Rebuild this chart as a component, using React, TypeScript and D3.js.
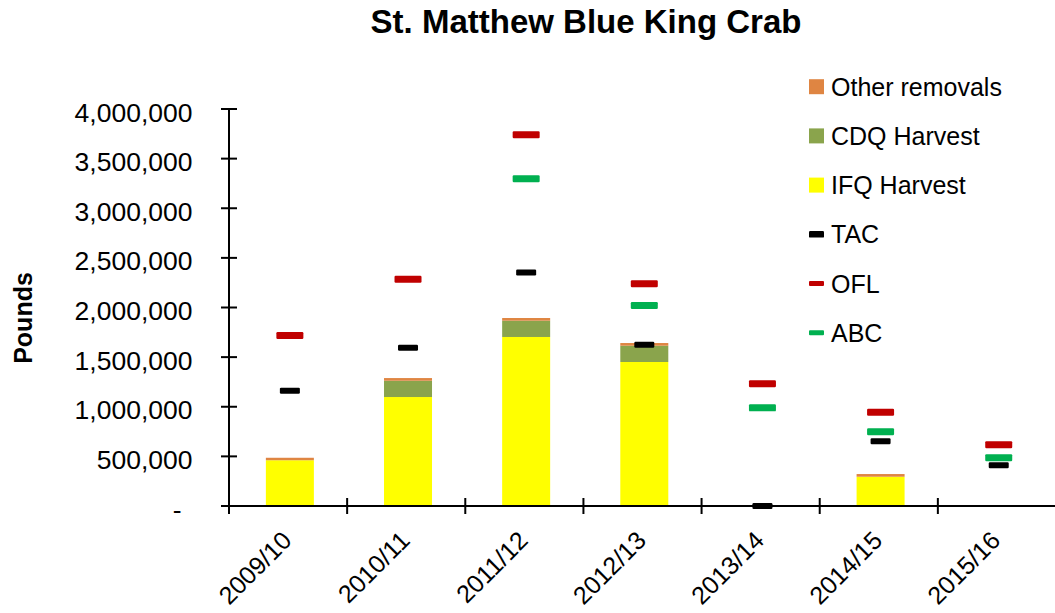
import React from 'react';
import * as d3 from 'd3';

const seasons = ['2009/10', '2010/11', '2011/12', '2012/13', '2013/14', '2014/15', '2015/16'];
const ifqHarvest = [461000, 1098000, 1703000, 1451000, 0, 295000, 0];
const cdqHarvest = [0, 164000, 164000, 164000, 0, 0, 0];
const otherRemovals = [25000, 27000, 27000, 27000, 0, 27000, 0];
const tacValues = [1162000, 1595000, 2353000, 1625000, 0, 653000, 410000];
const oflValues = [1718000, 2284000, 3741000, 2240000, 1231000, 944000, 618000];
const abcValues: (number | null)[] = [null, null, 3297000, 2020000, 989000, 748000, 487000];
const yTicks = [0, 500000, 1000000, 1500000, 2000000, 2500000, 3000000, 3500000, 4000000];

const FONT = '"Liberation Sans", Arial, Helvetica, sans-serif';
const colors = {
  other: '#DF8542',
  cdq: '#8AA44C',
  ifq: '#FFFF00',
  tac: '#000000',
  ofl: '#C00000',
  abc: '#00B050',
};

const legendItems = [
  { label: 'Other removals', color: colors.other, kind: 'box' },
  { label: 'CDQ Harvest', color: colors.cdq, kind: 'box' },
  { label: 'IFQ Harvest', color: colors.ifq, kind: 'box' },
  { label: 'TAC', color: colors.tac, kind: 'tac' },
  { label: 'OFL', color: colors.ofl, kind: 'line' },
  { label: 'ABC', color: colors.abc, kind: 'line' },
];

export default function App() {
  const W = 1055;
  const H = 613;
  const x = d3.scaleBand<string>().domain(seasons).range([229, 1056]).padding(0);
  const y = d3.scaleLinear().domain([0, 4000000]).range([506, 109]);
  const shift = 1.8;
  const barW = 48;

  const rows = seasons.map((s, i) => ({
    season: s,
    ifq: ifqHarvest[i],
    cdq: cdqHarvest[i],
    other: otherRemovals[i],
  }));
  const stacked = d3.stack<any>().keys(['ifq', 'cdq', 'other'])(rows);
  const fmt = d3.format(',');
  const cx = (s: string) => (x(s) as number) + x.bandwidth() / 2 + shift;

  const markers = (vals: (number | null)[], color: string, w: number, h: number, key: string) =>
    vals.map((v, i) =>
      v == null ? null : (
        <rect
          key={key + i}
          x={cx(seasons[i]) - w / 2}
          y={y(v) - h / 2}
          width={w}
          height={h}
          rx={1.2}
          fill={color}
        />
      )
    );

  return (
    <svg
      width={W}
      height={H}
      style={{ position: 'absolute', left: 0, top: 0, background: '#fff' }}
      fontFamily={FONT}
    >
      <rect x={0} y={0} width={W} height={H} fill="#fff" />
      <text x={586} y={32.5} textAnchor="middle" fontSize={33} fontWeight="bold" fill="#000">
        St. Matthew Blue King Crab
      </text>

      {/* bars */}
      {stacked.map((layer) => (
        <g key={layer.key} fill={(colors as any)[layer.key]}>
          {layer.map((d, i) =>
            d[1] - d[0] > 0 ? (
              <rect
                key={i}
                x={cx(seasons[i]) - barW / 2}
                y={y(d[1])}
                width={barW}
                height={y(d[0]) - y(d[1])}
              />
            ) : null
          )}
        </g>
      ))}

      {/* axes */}
      <line x1={229} x2={229} y1={109} y2={506} stroke="#000" strokeWidth={2} />
      <line x1={221} x2={W} y1={506} y2={506} stroke="#000" strokeWidth={2} />
      {yTicks.map((t) => (
        <g key={t}>
          <line x1={221} x2={237} y1={y(t)} y2={y(t)} stroke="#000" strokeWidth={2} />
          <text
            x={t === 0 ? 181.5 : 192.5}
            y={y(t) + 12.5}
            textAnchor="end"
            fontSize={26.5}
            fill="#000"
          >
            {t === 0 ? '-' : fmt(t)}
          </text>
        </g>
      ))}
      {seasons.map((s) => (
        <g key={s}>
          <line x1={x(s) as number} x2={x(s) as number} y1={498} y2={514} stroke="#000" strokeWidth={2} />
          <text
            transform={`translate(${(x(s) as number) + x.bandwidth() / 2 + 5},542) rotate(-45)`}
            textAnchor="end"
            fontSize={25}
            fill="#000"
          >
            {s}
          </text>
        </g>
      ))}

      {/* markers */}
      {markers(oflValues, colors.ofl, 27, 7, 'ofl')}
      {markers(abcValues, colors.abc, 27, 7, 'abc')}
      {markers(tacValues, colors.tac, 20, 6, 'tac')}

      {/* y title */}
      <text
        transform="translate(31.5,318) rotate(-90)"
        textAnchor="middle"
        fontSize={25}
        fontWeight="bold"
        fill="#000"
      >
        Pounds
      </text>

      {/* legend */}
      {legendItems.map((it, i) => {
        const cy = 86.7 + i * 49.2;
        return (
          <g key={it.label}>
            {it.kind === 'box' && <rect x={809} y={cy - 7.5} width={15} height={15} fill={it.color} />}
            {it.kind === 'tac' && <rect x={809} y={cy - 3.3} width={15} height={6.6} rx={1.2} fill={it.color} />}
            {it.kind === 'line' && <rect x={809} y={cy - 2.5} width={15} height={5} rx={1} fill={it.color} />}
            <text x={831} y={cy + 9} fontSize={25} fill="#000">
              {it.label}
            </text>
          </g>
        );
      })}
    </svg>
  );
}
